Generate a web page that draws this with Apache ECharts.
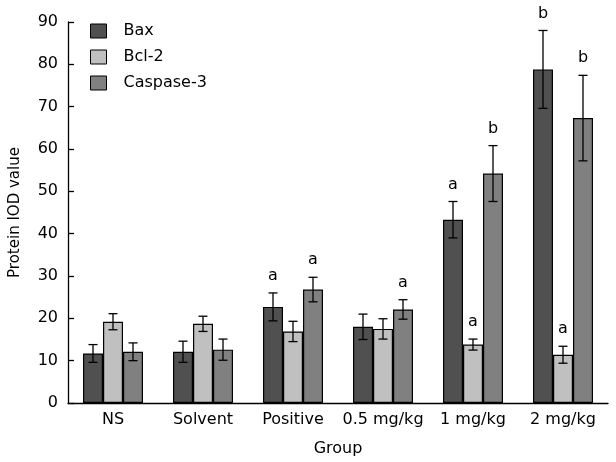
<!DOCTYPE html>
<html>
<head>
<meta charset="utf-8">
<script src="https://cdn.jsdelivr.net/npm/echarts@6/dist/echarts.min.js"></script>
<style>html,body{margin:0;padding:0;background:#fff}#c{width:616px;height:462px}</style>
</head>
<body>
<div id="c"></div>
<script>
var categories = ['NS', 'Solvent', 'Positive', '0.5 mg/kg', '1 mg/kg', '2 mg/kg'];
var seriesNames = ['Bax', 'Bcl-2', 'Caspase-3'];
var baxValues = [11.7, 12.1, 22.7, 18.0, 43.3, 78.8];
var baxErrors = [2.1, 2.5, 3.3, 3.0, 4.3, 9.2];
var baxMarks = ['', '', 'a', '', 'a', 'b'];
var bcl2Values = [19.2, 18.7, 16.9, 17.5, 13.8, 11.4];
var bcl2Errors = [1.9, 1.8, 2.4, 2.4, 1.3, 2.0];
var bcl2Marks = ['', '', '', '', 'a', 'a'];
var casValues = [12.1, 12.6, 26.8, 22.1, 54.2, 67.3];
var casErrors = [2.1, 2.5, 2.9, 2.3, 6.6, 10.1];
var casMarks = ['', '', 'a', 'a', 'b', 'b'];
var yTicks = [0, 10, 20, 30, 40, 50, 60, 70, 80, 90];

var colors = ['#505050', '#c0c0c0', '#808080'];
var FONT = 'DejaVu Sans';
var BAR_W = 20;

function errorSeries(values, errors, marks, k) {
  var data = values.map(function (v, i) { return [i, v, errors[i], marks[i]]; });
  return {
    type: 'custom',
    name: seriesNames[k] + ' err',
    data: data,
    z: 10,
    silent: true,
    encode: { x: 0, y: 1 },
    renderItem: function (params, api) {
      var i = api.value(0), v = api.value(1), e = api.value(2);
      var mark = data[params.dataIndex][3];
      var c = api.coord([i, v]);
      var x = c[0] + (k - 1) * BAR_W;
      var top = api.coord([i, v + e])[1];
      var bot = api.coord([i, v - e])[1];
      var cap = 4.5;
      var st = { stroke: '#000', lineWidth: 1.3 };
      var children = [
        { type: 'line', shape: { x1: x, y1: top, x2: x, y2: bot }, style: st },
        { type: 'line', shape: { x1: x - cap, y1: top, x2: x + cap, y2: top }, style: st },
        { type: 'line', shape: { x1: x - cap, y1: bot, x2: x + cap, y2: bot }, style: st }
      ];
      if (mark) {
        children.push({ type: 'text', style: { text: mark, x: x, y: top - 9, align: 'center', verticalAlign: 'bottom', font: '16px "DejaVu Sans"', fill: '#000' } });
      }
      return { type: 'group', children: children };
    }
  };
}

function barSeries(values, k) {
  return {
    type: 'bar',
    name: seriesNames[k],
    data: values,
    barWidth: BAR_W,
    barGap: '0%',
    itemStyle: { color: colors[k], borderColor: '#000', borderWidth: 1.2 }
  };
}

var chart = echarts.init(document.getElementById('c'), null, { renderer: 'canvas' });
chart.setOption({
  animation: false,
  textStyle: { fontFamily: FONT },
  grid: { left: 67, right: 8, top: 22, bottom: 54, containLabel: false },
  legend: {
    data: seriesNames,
    orient: 'vertical',
    left: 90, top: 23, padding: 0,
    itemWidth: 16, itemHeight: 14, itemGap: 10,
    icon: 'rect',
    itemStyle: { borderColor: '#000', borderWidth: 1 },
    textStyle: { fontFamily: FONT, fontSize: 16, color: '#000', padding: [0, 0, 0, 12] }
  },
  xAxis: {
    type: 'category',
    data: categories,
    name: 'Group',
    nameLocation: 'middle',
    nameGap: 38,
    nameTextStyle: { fontFamily: FONT, fontSize: 16, color: '#000' },
    axisLine: { lineStyle: { color: '#000', width: 1.3 } },
    axisTick: { inside: true, length: 6, interval: 0, lineStyle: { color: '#000', width: 1.3 } },
    axisLabel: { fontFamily: FONT, fontSize: 16, color: '#000', margin: 9, interval: 0 },
    splitLine: { show: false }
  },
  yAxis: {
    type: 'value',
    min: 0, max: 90, interval: 10,
    name: 'Protein IOD value',
    nameLocation: 'middle',
    nameGap: 45,
    nameTextStyle: { fontFamily: FONT, fontSize: 15, color: '#000' },
    axisLine: { show: true, lineStyle: { color: '#000', width: 1.3 } },
    axisTick: { show: true, inside: true, length: 6, lineStyle: { color: '#000', width: 1.3 } },
    axisLabel: { fontFamily: FONT, fontSize: 16, color: '#000', margin: 10,
      formatter: function (v) { return yTicks.indexOf(v) >= 0 ? String(v) : ''; } },
    splitLine: { show: false }
  },
  series: [
    barSeries(baxValues, 0),
    barSeries(bcl2Values, 1),
    barSeries(casValues, 2),
    errorSeries(baxValues, baxErrors, baxMarks, 0),
    errorSeries(bcl2Values, bcl2Errors, bcl2Marks, 1),
    errorSeries(casValues, casErrors, casMarks, 2)
  ]
});
</script>
</body>
</html>
